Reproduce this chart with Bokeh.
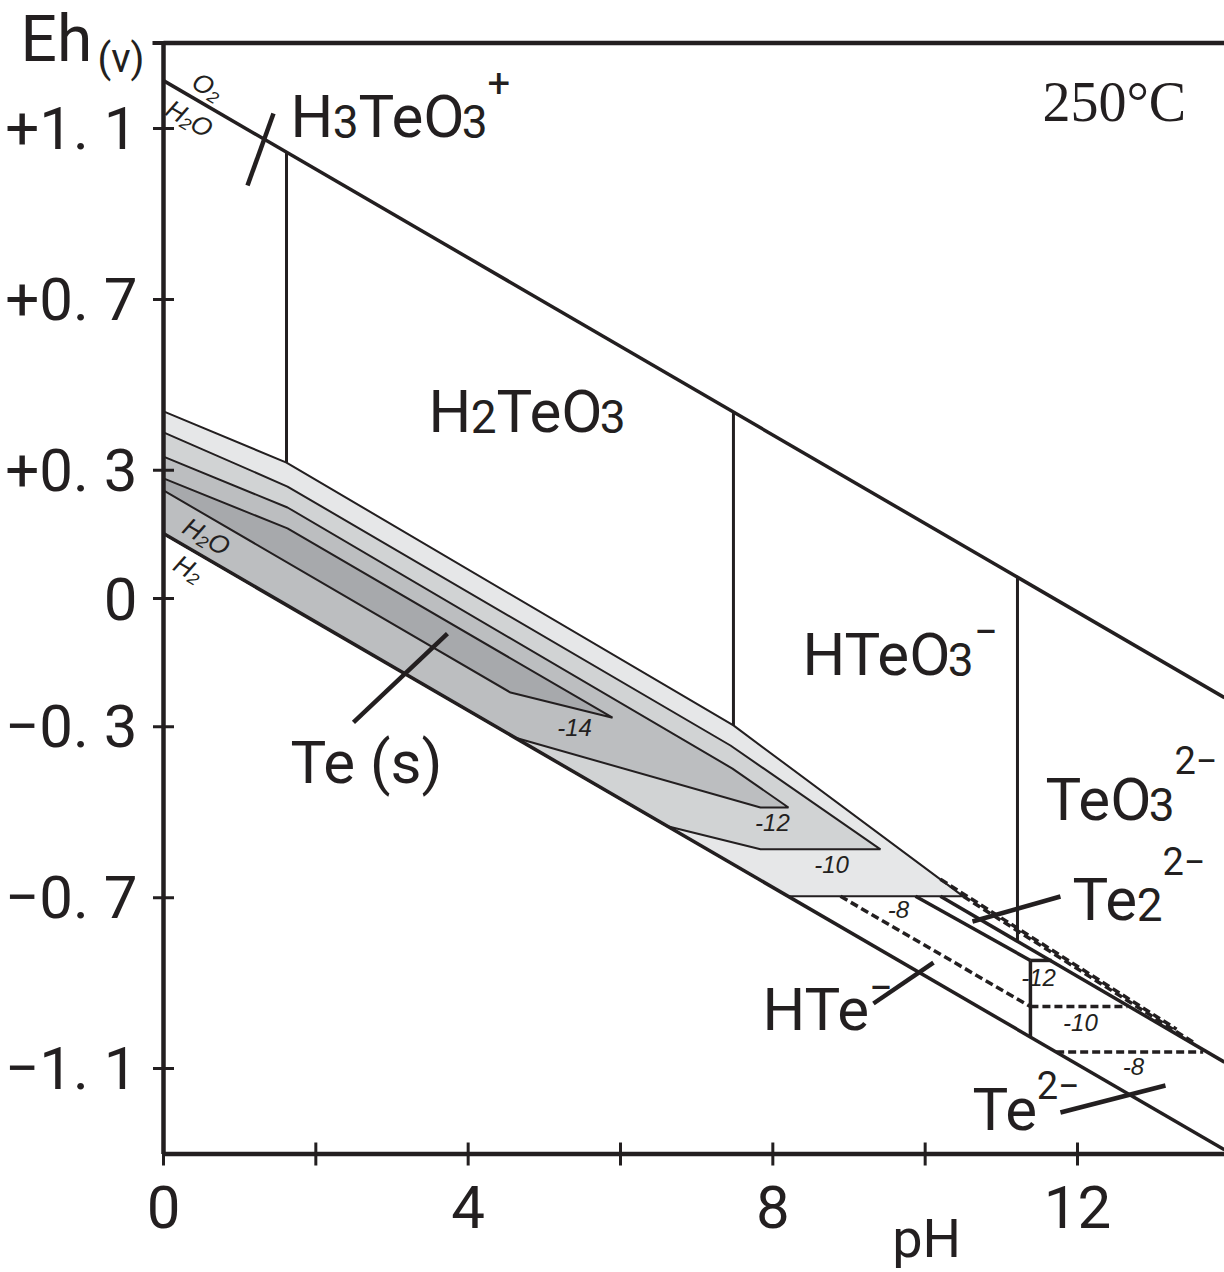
from bokeh.plotting import figure
from bokeh.models import Range1d
from bokeh.core.properties import value
from bokeh.embed import file_html
from bokeh.resources import INLINE
import math

INK = "#231f20"
SANS = "Roboto"
SERIF = "Liberation Serif"
ITAL = "Liberation Sans"

# ---------------- axes ----------------
ph_min, ph_max = 0.0, 13.93
eh_min, eh_max = -1.30, 1.30
x_ticks = [0, 2, 4, 6, 8, 10, 12]
x_label_vals = [0, 4, 8, 12]
x_label_text = ["0", "4", "8", "12"]
y_ticks = [1.1, 0.7, 0.3, 0.0, -0.3, -0.7, -1.1]
y_label_text = ["+1. 1", "+0. 7", "+0. 3", "0", "\u22120. 3", "\u22120. 7", "\u22121. 1"]

# ---------------- water stability limits ----------------
water_ph = [0.0, 13.93]
o2_eh = [1.212, -0.232]
h2_eh = [0.152, -1.290]

# ---------------- aqueous species boundaries (vertical) ----------------
b1_ph = [1.615, 1.615]
b1_eh = [1.045, 0.318]
b2_ph = [7.483, 7.483]
b2_eh = [0.436, -0.297]
b3_ph = [11.212, 11.212]
b3_eh = [0.049, -0.800]

# ---------------- Te(s) fields, log a = -8, -10, -12, -14 ----------------
te8_ph = [0.0, 1.615, 7.483, 10.50, 8.20, 0.0]
te8_eh = [0.438, 0.318, -0.297, -0.697, -0.697, 0.152]
te10_ph = [0.0, 1.628, 7.444, 9.413, 7.838, 6.617, 0.0]
te10_eh = [0.389, 0.262, -0.344, -0.587, -0.587, -0.533, 0.152]
te12_ph = [0.0, 1.628, 7.470, 8.205, 7.838, 4.621, 0.0]
te12_eh = [0.332, 0.213, -0.398, -0.489, -0.489, -0.326, 0.152]
te14_ph = [0.0, 1.628, 5.895, 4.556, 0.0]
te14_eh = [0.281, 0.164, -0.279, -0.220, 0.253]
field_colors = ["#e6e7e8", "#d1d3d4", "#bcbec0", "#a7a9ac"]

# ---------------- reduced species (solid) ----------------
s2_ph = [9.873, 11.382]
s2_eh = [-0.697, -0.847]
s3_ph = [11.382, 11.382]
s3_eh = [-0.847, -1.026]
s4_ph = [10.20, 13.93]
s4_eh = [-0.697, -1.085]
c12_ph = [11.382, 11.66]
c12_eh = [-0.847, -0.847]

# ---------------- reduced species contours (dashed) ----------------
d8a_ph = [8.888, 11.382]
d8a_eh = [-0.697, -0.955]
d10_ph = [11.382, 12.656]
d10_eh = [-0.955, -0.955]
d8b_ph = [11.72, 13.65]
d8b_eh = [-1.061, -1.061]
da_ph = [10.20, 13.30]
da_eh = [-0.657, -1.008]
db_ph = [10.50, 13.55]
db_eh = [-0.697, -1.042]

# ---------------- leader lines ----------------
lead_ph = [[1.103, 1.444], [2.494, 3.728], [11.776, 10.621], [9.321, 10.109], [11.776, 13.155]]
lead_eh = [[0.9665, 1.1351], [-0.290, -0.082], [-0.6974, -0.7559], [-0.9478, -0.8519], [-1.2029, -1.1397]]

# ---------------- contour value labels ----------------
cl_text = ["-14", "-12", "-10", "-8", "-12", "-10", "-8"]
cl_ph = [5.396, 7.995, 8.770, 9.649, 11.488, 12.039, 12.735]
cl_eh = [-0.302, -0.524, -0.623, -0.728, -0.887, -0.992, -1.095]

# water line tags
wt_text = ["O\u2082", "H\u2082O", "H\u2082O", "H\u2082"]
wt_ph = [0.578, 0.341, 0.565, 0.328]
wt_eh = [1.198, 1.123, 0.145, 0.070]

# canvas = frame; the axes are drawn on it at pH 0 / Eh -1.3
p = figure(width=1224, height=1272, x_range=Range1d(-2.140, 13.930), y_range=Range1d(-1.5773, 1.3995),
           output_backend="svg", toolbar_location=None, x_axis_location=None, y_axis_location=None,
           min_border=0)
p.outline_line_color = None
p.grid.visible = False
p.background_fill_color = "white"
p.border_fill_color = "white"

# fields
for fph, feh, col in zip([te8_ph, te10_ph, te12_ph, te14_ph], [te8_eh, te10_eh, te12_eh, te14_eh], field_colors):
    p.patch(fph, feh, fill_color=col, line_color=INK, line_width=2)

# water lines
p.line(water_ph, o2_eh, line_color=INK, line_width=3.5)
p.line(water_ph, h2_eh, line_color=INK, line_width=3.5)

# boundaries
for bx, by in [(b1_ph, b1_eh), (b2_ph, b2_eh), (b3_ph, b3_eh)]:
    p.line(bx, by, line_color=INK, line_width=3)
for bx, by in [(s2_ph, s2_eh), (s3_ph, s3_eh), (s4_ph, s4_eh), (c12_ph, c12_eh)]:
    p.line(bx, by, line_color=INK, line_width=3.5)
for bx, by in [(d8a_ph, d8a_eh), (d10_ph, d10_eh), (d8b_ph, d8b_eh), (da_ph, da_eh), (db_ph, db_eh)]:
    p.line(bx, by, line_color=INK, line_width=3.5, line_dash="8 4")

p.multi_line(lead_ph, lead_eh, line_color=INK, line_width=4.5)

# ---------------- axes (lines, ticks, tick labels) ----------------
p.line([ph_min, ph_min], [eh_min, eh_max], line_color=INK, line_width=4.5)
p.line([ph_min, ph_max], [eh_min, eh_min], line_color=INK, line_width=4.5)
p.line([ph_min, ph_max], [eh_max, eh_max], line_color=INK, line_width=4.5)
p.scatter(x_ticks, [eh_min] * len(x_ticks), marker="dash", size=23, angle=math.pi / 2,
          line_color=INK, line_width=3)
p.scatter([ph_min] * len(y_ticks), y_ticks, marker="dash", size=21, line_color=INK, line_width=3)
p.scatter([ph_min], [eh_max], marker="dash", size=22, line_color=INK, line_width=4)
p.text(x_label_vals, [eh_min] * len(x_label_vals), text=x_label_text, y_offset=53,
       text_font=value(SANS), text_font_size="60px", text_color=INK,
       text_align="center", text_baseline="middle")
p.text([ph_min] * len(y_ticks), y_ticks, text=y_label_text, x_offset=-26, y_offset=0,
       text_font=value(SANS), text_font_size="60px", text_color=INK,
       text_align="right", text_baseline="middle")
p.text([-1.877], [1.308], text=["Eh"], text_font=value(SANS), text_font_size="64px",
       text_color=INK, text_align="left", text_baseline="middle")
p.text([-0.866], [1.2637], text=["(v)"], text_font=value(SANS), text_font_size="40px",
       text_color=INK, text_align="left", text_baseline="middle")
p.text([10.02], [-1.4977], text=["pH"], text_font=value(SANS), text_font_size="54px",
       text_color=INK, text_align="center", text_baseline="middle")

# contour labels
p.text(cl_ph, cl_eh, text=cl_text, text_font=value(ITAL), text_font_style="italic",
       text_font_size="24px", text_color=INK, text_align="center", text_baseline="middle")
p.text(wt_ph, wt_eh, text=wt_text, text_font=value(ITAL), text_font_style="italic",
       text_font_size="26px", text_color=INK, text_align="center", text_baseline="middle",
       angle=-0.527)

# species labels built from pieces (main letters, smaller digits, raised charges);
# anchor = left end of the baseline, dy = raise of a piece's centre above the baseline
WID = {"H": 0.703, "T": 0.54, "e": 0.530, "O": 0.65, "2": 0.5615, "3": 0.5615, "+": 0.554,
       "\u2212": 0.554, " ": 0.248, "(": 0.341, ")": 0.348, "s": 0.517}
F, S, U = 60, 46, 42


def species(x, y, segs):
    off = 0.0
    for txt, size, dy in segs:
        cy = -0.355 * size if dy is None else dy
        p.text([x], [y], text=[txt], x_offset=off, y_offset=cy, text_font=value(SANS),
               text_font_size=f"{size}px", text_color=INK, text_align="left",
               text_baseline="middle")
        off += sum(WID[c] for c in txt) * size


species(1.667, 1.079, [("H", F, None), ("3", S, None), ("TeO", F, None), ("3", S, None), ("+", 40, -55)])
species(3.479, 0.3885, [("H", F, None), ("2", S, None), ("TeO", F, None), ("3", S, None)])
species(8.389, -0.180, [("HTeO", F, None), ("3", S, None), ("\u2212", U, -44)])
species(11.579, -0.5195, [("TeO", F, None), ("3", S, None), ("2\u2212", 38, -60)])
species(11.934, -0.7536, [("Te", F, None), ("2", S, None), ("2\u2212", 38, -60)])
species(7.864, -1.011, [("HTe", F, None), ("\u2212", U, -44)])
species(10.621, -1.245, [("Te", F, None), ("2\u2212", 38, -46)])
species(1.667, -0.433, [("Te (s)", F, None)])

p.text([11.54], [1.1608], text=["250\u00b0C"], text_font=value(SERIF), text_font_size="56px",
       text_color=INK, text_align="left", text_baseline="middle")

open("out.html", "w").write(file_html(p, INLINE))
